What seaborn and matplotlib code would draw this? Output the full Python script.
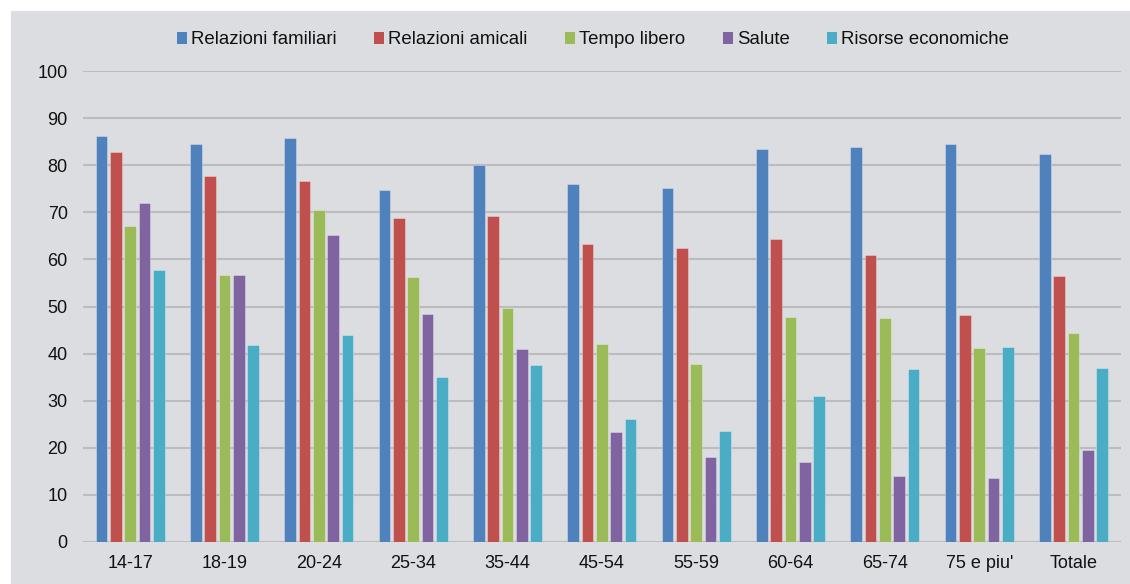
import matplotlib
matplotlib.use("Agg")
import matplotlib.pyplot as plt
from matplotlib.patches import Rectangle, Patch
import pandas as pd
import seaborn as sns

categorie = ["14-17", "18-19", "20-24", "25-34", "35-44", "45-54",
             "55-59", "60-64", "65-74", "75 e piu'", "Totale"]
ambiti = ["Relazioni familiari", "Relazioni amicali", "Tempo libero",
          "Salute", "Risorse economiche"]

relazioni_familiari = [86.2, 84.5, 85.7, 74.8, 80.1, 76.0, 75.2, 83.5, 83.8, 84.6, 82.4]
relazioni_amicali = [82.8, 77.8, 76.6, 68.7, 69.3, 63.2, 62.5, 64.4, 60.9, 48.1, 56.5]
tempo_libero = [67.0, 56.7, 70.5, 56.3, 49.6, 42.0, 37.8, 47.8, 47.5, 41.2, 44.3]
salute = [71.9, 56.6, 65.1, 48.4, 41.0, 23.3, 18.0, 16.9, 14.1, 13.6, 19.5]
risorse_economiche = [57.8, 41.9, 43.9, 35.1, 37.5, 26.1, 23.6, 30.9, 36.8, 41.5, 37.0]

colori = ["#4f81bd", "#c0504d", "#9bbb59", "#8064a2", "#4bacc6"]
sfondo = "#dcdde0"

serie = [relazioni_familiari, relazioni_amicali, tempo_libero, salute, risorse_economiche]
df = pd.DataFrame({
    "categoria": [c for _ in ambiti for c in categorie],
    "ambito": [a for a in ambiti for _ in categorie],
    "valore": [v for s in serie for v in s],
})

sns.set_theme(style="white")
plt.rcParams["font.family"] = ["Liberation Sans", "DejaVu Sans"]

W, H = 1130, 584
fig = plt.figure(figsize=(W / 100, H / 100), dpi=100, facecolor="white")
fig.patches.append(Rectangle((11 / W, 0), 1, 1 - 11 / H, transform=fig.transFigure,
                             facecolor=sfondo, edgecolor="none", zorder=-10))

left, right, top, bottom = 83, 1120.7, 71, 542
ax = fig.add_axes([left / W, 1 - bottom / H, (right - left) / W, (bottom - top) / H])
ax.set_facecolor(sfondo)

sns.barplot(data=df, x="categoria", y="valore", hue="ambito", order=categorie,
            hue_order=ambiti, palette=colori, saturation=1, width=0.76, gap=0.2,
            linewidth=0.7, edgecolor=(1, 1, 1, 0.3), legend=False, ax=ax,
            zorder=3)

ax.set_xlim(-0.5, len(categorie) - 0.5)
ax.set_ylim(0, 100)
ax.set_yticks(range(0, 101, 10))
ax.yaxis.grid(True, color="#bcbcbe", linewidth=1.5, zorder=0)
ax.set_axisbelow(True)
ax.set_xlabel("")
ax.set_ylabel("")
for s in ax.spines.values():
    s.set_visible(False)
ax.tick_params(axis="both", length=0, labelsize=13, colors="#111111")
ax.tick_params(axis="y", pad=11)
ax.tick_params(axis="x", pad=9)

handles = [Patch(facecolor=c, edgecolor="none", label=a) for a, c in zip(ambiti, colori)]
fig.legend(handles=handles, loc="center", bbox_to_anchor=(593 / W, 1 - 40 / H),
           ncol=5, frameon=False, fontsize=13.4, handlelength=0.55, handleheight=0.55,
           handletextpad=0.22, columnspacing=2.0, labelcolor="#111111")

fig.savefig("out.png", dpi=100, facecolor=fig.get_facecolor())
